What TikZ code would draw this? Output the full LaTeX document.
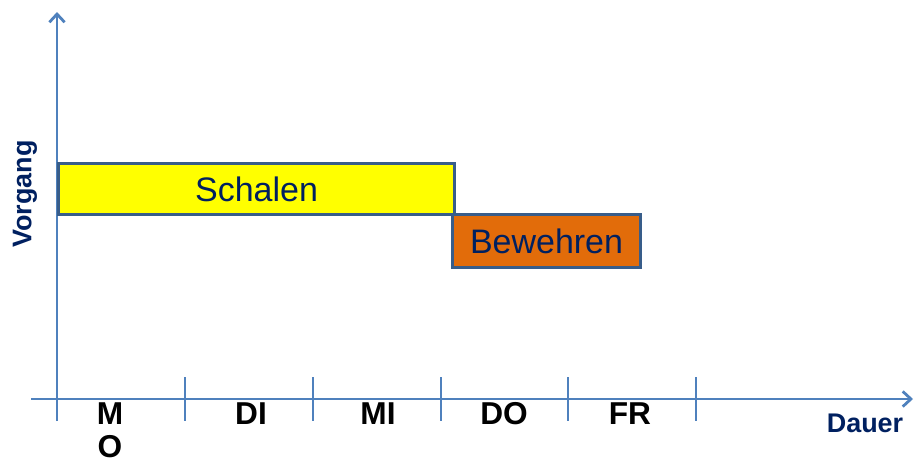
\documentclass[tikz,border=0pt]{standalone}
\usepackage{fontspec}
\setmainfont{Liberation Sans}
\usepackage{xcolor}
\usetikzlibrary{arrows.meta,positioning}
\definecolor{axisblue}{RGB}{79,129,189}
\definecolor{frame}{RGB}{56,93,138}
\definecolor{navy}{RGB}{0,32,96}
\definecolor{barorange}{RGB}{226,108,10}
\definecolor{baryellow}{RGB}{255,255,0}

\begin{document}
\begin{tikzpicture}[x=0.03cm,y=-0.03cm,
  axis/.style={line width=2.4pt,color=axisblue},
  tick/.style={line width=2.4pt,color=axisblue},
  task/.style={draw=frame,line width=2.6pt,anchor=north west,inner sep=0pt,text=navy,font=\fontsize{29}{34}\selectfont},
  day/.style={font=\bfseries\fontsize{27}{33}\selectfont,anchor=base},
  axlabel/.style={font=\bfseries\fontsize{23}{28}\selectfont,text=navy}]
  \useasboundingbox (0,0) rectangle (917,464);
  % axes
  \coordinate (o) at (57,399);
  \coordinate (ybot) at (57,421);
  \coordinate (ytop) at (57,12);
  \coordinate (xleft) at (31,399);
  \coordinate (xright) at (913,399);
  \draw[axis,-{Straight Barb[length=7pt,width=13pt]}] (ybot)--(ytop);
  \draw[axis,-{Straight Barb[length=7pt,width=13pt]}] (xleft)--(xright);
  % day ticks
  \foreach \x/\n in {185/a,313/b,441/c,568/d,696/e}{
    \coordinate (t\n) at (\x,377);
    \draw[tick] (t\n)--++(0,44);
  }
  \node[day] (mo1) at (110,424) {M};
  \node[day] (mo2) at (110,457) {O};
  \node[day] (di) at (251,424) {DI};
  \node[day] (mi) at (378,424) {MI};
  \node[day] (do) at (504,424) {DO};
  \node[day] (fr) at (630,424) {FR};
  \node[axlabel,anchor=base] (dauer) at (865,432) {Dauer};
  \node[axlabel,rotate=90] (vorgang) at (25,194) {Vorgang};
  % tasks
  \node[task,fill=baryellow,minimum width=11.88cm,minimum height=1.53cm] (schalen) at (57,162) {Schalen};
  \node[task,fill=barorange,minimum width=5.64cm,minimum height=1.59cm] (bewehren) at (451,213) {Bewehren};
\end{tikzpicture}
\end{document}
